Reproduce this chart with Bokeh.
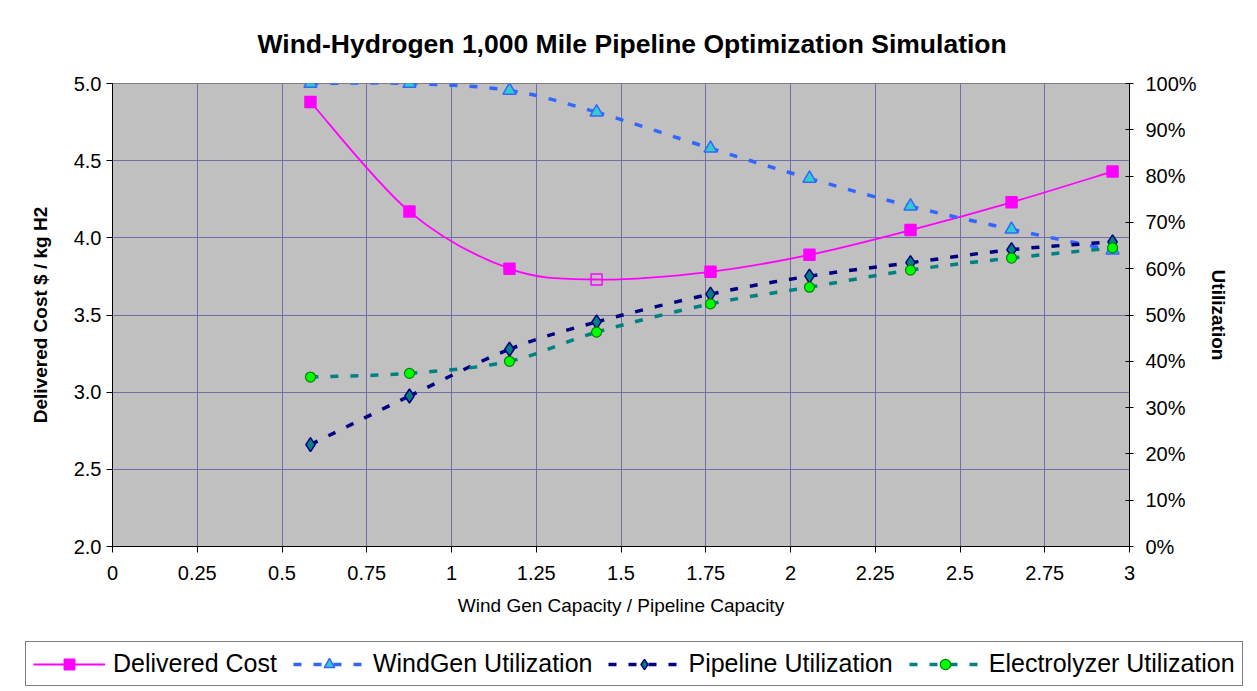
from bokeh.plotting import figure
from bokeh.layouts import column
from bokeh.models import (Range1d, LinearAxis, FixedTicker, PrintfTickFormatter,
                          Legend, LegendItem, ColumnDataSource)
from bokeh.embed import file_html
from bokeh.resources import INLINE

# ---------------- data ----------------
capacity_ratio = [0.584, 0.876, 1.171, 1.428, 1.764, 2.056, 2.354, 2.652, 2.95]
delivered_cost = [4.88, 4.17, 3.80, 3.73, 3.78, 3.89, 4.05, 4.23, 4.43]
windgen_util = [100.0, 100.0, 98.5, 93.8, 86.0, 79.5, 73.5, 68.5, 64.0]
pipeline_util = [22.0, 32.5, 42.6, 48.5, 54.5, 58.4, 61.3, 64.1, 65.8]
electrolyzer_util = [36.6, 37.4, 40.0, 46.3, 52.4, 56.0, 59.7, 62.3, 64.5]

series_names = ["Delivered Cost", "WindGen Utilization", "Pipeline Utilization",
                "Electrolyzer Utilization"]

x_ticks = [0, 0.25, 0.5, 0.75, 1, 1.25, 1.5, 1.75, 2, 2.25, 2.5, 2.75, 3]
x_tick_labels = ["0", "0.25", "0.5", "0.75", "1", "1.25", "1.5", "1.75", "2",
                 "2.25", "2.5", "2.75", "3"]
cost_ticks = [2.0, 2.5, 3.0, 3.5, 4.0, 4.5, 5.0]
util_ticks = [0, 10, 20, 30, 40, 50, 60, 70, 80, 90, 100]

title_text = "Wind-Hydrogen 1,000 Mile Pipeline Optimization Simulation"
FONT = "Liberation Sans"
hollow_point = 3  # the one point drawn with an open marker

# series styles
DASH = "8 12"
styles = [
    dict(line_color="#FF00FF", line_width=1.8, line_dash="solid",
         marker="square", size=11, fill_color="#FF00FF", mline="#FF00FF", mwidth=1.5),
    dict(line_color="#3366FF", line_width=3.5, line_dash=DASH,
         marker="triangle", size=13, fill_color="#33CCCC", mline="#3366FF", mwidth=1.5),
    dict(line_color="#000080", line_width=3.5, line_dash=DASH,
         marker="diamond", size=14, fill_color="#008080", mline="#000080", mwidth=1.5),
    dict(line_color="#008080", line_width=3.5, line_dash=DASH,
         marker="circle", size=10, fill_color="#00FF00", mline="#008000", mwidth=1.2),
]


def smooth_segments(xs, ys):
    """Bezier control points (Catmull-Rom style) for a smoothed line through the data."""
    n = len(xs)
    d = {k: [] for k in ("x0", "y0", "x1", "y1", "cx0", "cy0", "cx1", "cy1")}
    for i in range(n - 1):
        ip, i2 = max(i - 1, 0), min(i + 2, n - 1)
        d["x0"].append(xs[i]); d["y0"].append(ys[i])
        d["x1"].append(xs[i + 1]); d["y1"].append(ys[i + 1])
        d["cx0"].append(xs[i] + (xs[i + 1] - xs[ip]) / 6)
        d["cy0"].append(ys[i] + (ys[i + 1] - ys[ip]) / 6)
        d["cx1"].append(xs[i + 1] - (xs[i2] - xs[i]) / 6)
        d["cy1"].append(ys[i + 1] - (ys[i2] - ys[i]) / 6)
    return ColumnDataSource(d)


p = figure(frame_width=1017, frame_height=463,
           x_range=Range1d(0, 3), y_range=Range1d(2, 5),
           output_backend="svg", toolbar_location=None,
           min_border_left=112, min_border_right=128,
           min_border_top=83, min_border_bottom=94,
           background_fill_color="#C0C0C0", border_fill_color="white",
           outline_line_color="#808080")
p.extra_y_ranges = {"util": Range1d(0, 100)}

# title
p.title.text = title_text
p.title.text_font = FONT
p.title.text_font_size = "26.5px"
p.title.text_font_style = "bold"
p.title.text_color = "black"
p.title.align = "left"
p.title.offset = 145
p.title.standoff = 50

# grid
grid_color = "#6F6FA6"
p.xgrid.grid_line_color = grid_color
p.ygrid.grid_line_color = grid_color
p.xgrid.ticker = FixedTicker(ticks=x_ticks)
p.ygrid.ticker = FixedTicker(ticks=cost_ticks)

# x axis
xa = p.xaxis[0]
xa.ticker = FixedTicker(ticks=x_ticks)
xa.major_label_overrides = {t: s for t, s in zip(x_ticks, x_tick_labels)}
xa.axis_label = "Wind Gen Capacity / Pipeline Capacity"

# left axis
ya = p.yaxis[0]
ya.ticker = FixedTicker(ticks=cost_ticks)
ya.formatter = PrintfTickFormatter(format="%.1f")
ya.axis_label = "Delivered Cost $ / kg H2"

# right axis
ra = LinearAxis(y_range_name="util", ticker=FixedTicker(ticks=util_ticks),
                formatter=PrintfTickFormatter(format="%d%%"),
                axis_label="Utilization")
p.add_layout(ra, "right")

for ax in (xa, ya, ra):
    ax.axis_line_color = "black"
    ax.major_tick_line_color = "black"
    ax.minor_tick_line_color = None
    ax.major_label_text_font = FONT
    ax.major_label_text_font_size = "20px"
    ax.major_label_text_color = "black"
    ax.axis_label_text_font = FONT
    ax.axis_label_text_font_size = "19px"
    ax.axis_label_text_color = "black"

xa.major_tick_in = 0
xa.major_tick_out = 6
xa.major_label_standoff = 13
xa.axis_label_standoff = 12
xa.axis_label_text_font_style = "normal"

ya.major_tick_in = 0
ya.major_tick_out = 6
ya.major_label_standoff = 5
ya.axis_label_standoff = 20
ya.axis_label_text_font_style = "bold"

ra.major_tick_in = 4
ra.major_tick_out = 4
ra.major_label_standoff = 12
ra.axis_label_standoff = 8
ra.axis_label_text_font_style = "bold"

# ---------------- series ----------------
series_values = [delivered_cost, windgen_util, pipeline_util, electrolyzer_util]
range_names = ["default", "util", "util", "util"]

for k, (vals, rng, st) in enumerate(zip(series_values, range_names, styles)):
    p.bezier(x0="x0", y0="y0", x1="x1", y1="y1", cx0="cx0", cy0="cy0",
             cx1="cx1", cy1="cy1", y_range_name=rng,
             source=smooth_segments(capacity_ratio, vals),
             line_color=st["line_color"], line_width=st["line_width"],
             line_dash=st["line_dash"])
    if k == 0:
        fill_alpha = [0.0 if i == hollow_point else 1.0 for i in range(len(vals))]
    else:
        fill_alpha = [1.0] * len(vals)
    p.scatter(x=capacity_ratio, y=vals, marker=st["marker"], size=st["size"],
              y_range_name=rng, fill_color=st["fill_color"], fill_alpha=fill_alpha,
              line_color=st["mline"], line_width=st["mwidth"])

# ---------------- legend (separate strip below the chart) ----------------
lg = figure(frame_width=1257, frame_height=51, x_range=Range1d(0, 1), y_range=Range1d(0, 1),
            output_backend="svg", toolbar_location=None,
            x_axis_location=None, y_axis_location=None,
            min_border_left=0, min_border_right=0, min_border_top=0, min_border_bottom=0,
            outline_line_color=None, background_fill_color="white",
            border_fill_color="white")
lg.grid.visible = False

NAN = float("nan")  # legend-only renderers: nothing is drawn in the strip itself
items = []
for name, st in zip(series_names, styles):
    ln = lg.line(x=[NAN], y=[NAN], line_color=st["line_color"],
                 line_width=st["line_width"], line_dash=st["line_dash"])
    mk = lg.scatter(x=[NAN], y=[NAN], marker=st["marker"], fill_color=st["fill_color"],
                    line_color=st["mline"], line_width=st["mwidth"])
    items.append(LegendItem(label=name, renderers=[ln, mk]))

legend = Legend(
    items=items, orientation="horizontal", location=(25, 5),
    label_text_font=FONT, label_text_font_size="25px", label_text_color="black",
    glyph_width=72, glyph_height=26, label_standoff=8, spacing=16, padding=7,
    margin=0, border_line_color="black", border_line_width=1,
    background_fill_color="white", background_fill_alpha=1.0)
lg.add_layout(legend, "center")

layout = column(p, lg)
open("out.html", "w").write(file_html(layout, INLINE))
